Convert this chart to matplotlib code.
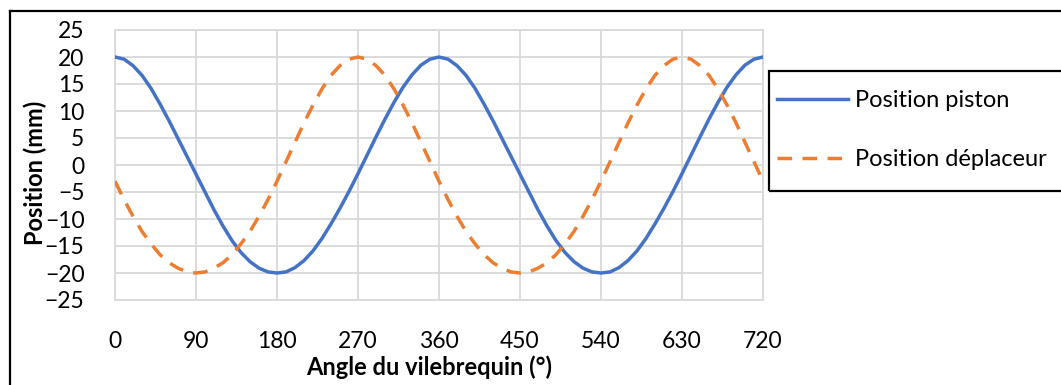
import numpy as np
import matplotlib
matplotlib.use('Agg')
import matplotlib.pyplot as plt
from matplotlib.patches import Rectangle
from matplotlib.lines import Line2D

plt.rcParams['font.family'] = ['Lato', 'DejaVu Sans']

# angle du vilebrequin (deg), pas de 10
angle = list(range(0, 730, 10))

# position piston (mm)
piston = [20.0, 19.6, 18.4, 16.6, 14.2, 11.3, 8.2, 4.9, 1.6, -1.7,
          -5.0, -8.3, -11.3, -14.0, -16.2, -17.9, -19.1, -19.8, -20.0,
          -19.8, -19.0, -17.7, -15.9, -13.6, -10.9, -8.0, -4.9, -1.6,
          1.8, 5.2, 8.5, 11.6, 14.4, 16.7, 18.5, 19.6, 20.0,
          19.6, 18.4, 16.6, 14.2, 11.3, 8.2, 4.9, 1.6, -1.7,
          -5.0, -8.3, -11.3, -14.0, -16.2, -17.9, -19.1, -19.8, -20.0,
          -19.8, -19.0, -17.7, -15.9, -13.6, -10.9, -8.0, -4.9, -1.6,
          1.8, 5.2, 8.5, 11.6, 14.4, 16.7, 18.5, 19.6, 20.0]

# position deplaceur (mm)
deplaceur = [-3.0, -6.4, -9.5, -12.3, -14.6, -16.6, -18.1, -19.1, -19.8, -20.0,
             -19.8, -19.1, -18.1, -16.6, -14.6, -12.3, -9.5, -6.4, -3.0,
             0.6, 4.2, 7.8, 11.1, 14.1, 16.6, 18.4, 19.6, 20.0,
             19.6, 18.4, 16.6, 14.1, 11.1, 7.8, 4.2, 0.6, -3.0,
             -6.4, -9.5, -12.3, -14.6, -16.6, -18.1, -19.1, -19.8, -20.0,
             -19.8, -19.1, -18.1, -16.6, -14.6, -12.3, -9.5, -6.4, -3.0,
             0.6, 4.2, 7.8, 11.1, 14.1, 16.6, 18.4, 19.6, 20.0,
             19.6, 18.4, 16.6, 14.1, 11.1, 7.8, 4.2, 0.6, -3.0]

x_ticks = [0, 90, 180, 270, 360, 450, 540, 630, 720]
y_ticks = [25, 20, 15, 10, 5, 0, -5, -10, -15, -20, -25]

W, H = 1061, 385
fig = plt.figure(figsize=(W / 100, H / 100), dpi=100)
ax = fig.add_axes([115 / W, 1 - 300 / H, (763 - 115) / W, 270 / H])

blue = '#4472C4'
orange = '#ED7D31'

ax.plot(angle, piston, color=blue, lw=2.5, solid_capstyle='round', zorder=3)
ax.plot(angle, deplaceur, color=orange, lw=2.5, dashes=(4.2, 3.0), zorder=3)

ax.set_xlim(0, 720)
ax.set_ylim(-25, 25)
ax.set_xticks(x_ticks)
ax.set_yticks(y_ticks)
ax.grid(True, color='#D9D9D9', lw=1.3)
ax.set_axisbelow(True)
for s in ax.spines.values():
    s.set_color('#D9D9D9')
    s.set_linewidth(1.3)
ax.tick_params(length=0, labelsize=16.5, pad=22)
ax.tick_params(axis='y', pad=22)
ax.set_xlabel('Angle du vilebrequin (°)', fontsize=17, fontweight='bold')
ax.set_ylabel('Position (mm)', fontsize=17, fontweight='bold')
ax.xaxis.set_label_coords(0.485, -55 / 270)
ax.yaxis.set_label_coords(-68 / 648, 0.47)

# cadre exterieur
fig.add_artist(Line2D([9.5 / W, 1.0], [1 - 10.5 / H, 1 - 10.5 / H], color='black', lw=1.6))
fig.add_artist(Line2D([9.5 / W, 9.5 / W], [0, 1 - 10.5 / H], color='black', lw=1.6))

# legende
fig.add_artist(Rectangle((769 / W, 1 - 191 / H), 400 / W, 120 / H, fill=False,
                         edgecolor='black', lw=1.6, transform=fig.transFigure))
h1 = Line2D([], [], color=blue, lw=2.5)
h2 = Line2D([], [], color=orange, lw=2.5, dashes=(4.2, 3.0))
fig.legend([h1, h2], ['Position piston', 'Position déplaceur'], loc='center left',
           bbox_to_anchor=(777 / W, 1 - 130 / H), frameon=False, fontsize=17,
           handlelength=3.0, handletextpad=0.3, labelspacing=1.6,
           borderpad=0, borderaxespad=0)

plt.savefig('out.png', dpi=100)
